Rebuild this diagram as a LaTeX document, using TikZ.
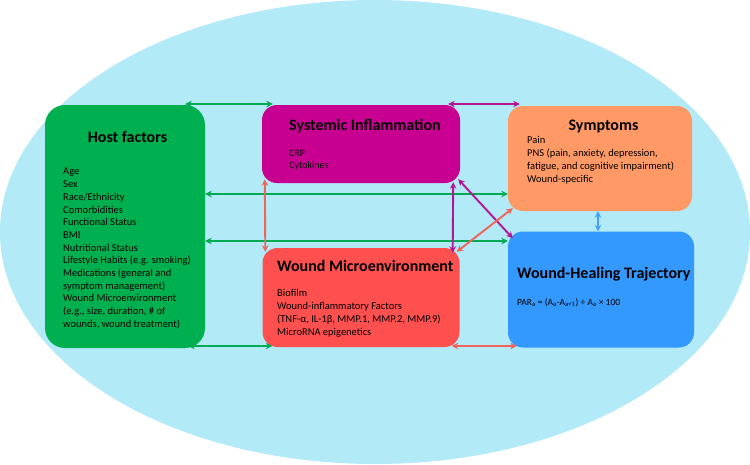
\documentclass[tikz,border=0pt]{standalone}
\usepackage{fontspec}
\setmainfont{Carlito}
\usetikzlibrary{arrows.meta}
\definecolor{bgblue}{RGB}{178,234,248}
\definecolor{hostgreen}{RGB}{0,176,80}
\definecolor{sysmag}{RGB}{200,0,145}
\definecolor{woundred}{RGB}{255,80,80}
\definecolor{sympor}{RGB}{255,153,102}
\definecolor{whtblue}{RGB}{51,153,255}
\definecolor{agreen}{RGB}{0,170,80}
\definecolor{amag}{RGB}{180,20,150}
\definecolor{ared}{RGB}{240,100,90}
\definecolor{ablue}{RGB}{70,160,250}
\tikzset{
  box/.style={rectangle, rounded corners=15pt, inner sep=0pt, draw=none},
  ttl/.style={font=\fontsize{16}{19}\selectfont\bfseries, inner sep=0pt, text=black},
  bodytxt/.style={font=\fontsize{10.5}{12.7}\selectfont, align=left, inner sep=0pt, anchor=north west, text=black},
  conn/.style={line width=1.9pt, {Stealth[length=6.5pt,width=6.5pt]}-{Stealth[length=6.5pt,width=6.5pt]}}
}
\begin{document}
\begin{tikzpicture}[x=1pt,y=-1pt]
\useasboundingbox (0,0) rectangle (750,464);
\fill[white] (0,0) rectangle (750,464);
\fill[bgblue] (375,232) ellipse [x radius=375pt, y radius=232pt];

% boxes
\node[box, rounded corners=20pt, fill=hostgreen, minimum width=160pt, minimum height=243pt] (host) at (125,226.5) {};
\node[box, fill=sysmag, minimum width=198pt, minimum height=78pt] (sys) at (361,144) {};
\node[box, fill=woundred, minimum width=197pt, minimum height=99pt] (wm) at (361,297.5) {};
\node[box, fill=sympor, minimum width=184pt, minimum height=105pt] (symp) at (600,158.5) {};
\node[box, fill=whtblue, minimum width=186pt, minimum height=116pt] (wht) at (601,289.5) {};

% titles
\node[ttl, anchor=base] (hostT) at (127.5,142) {Host factors};
\node[ttl, anchor=base west] (sysT) at (289,130) {Systemic Inflammation};
\node[ttl, anchor=base west] (wmT) at (277,271) {Wound Microenvironment};
\node[ttl, anchor=base] (sympT) at (603.5,130) {Symptoms};
\node[ttl, anchor=base west] (whtT) at (517,278) {Wound-Healing Trajectory};

% bodies
\node[bodytxt] (hostB) at (63,168) {Age\\Sex\\Race/Ethnicity\\Comorbidities\\Functional Status\\BMI\\Nutritional Status\\Lifestyle Habits (e.g. smoking)\\Medications (general and\\symptom management)\\Wound Microenvironment\\(e.g., size, duration, \# of\\wounds, wound treatment)};
\node[bodytxt, font=\fontsize{10}{12.7}\selectfont] (sysB) at (289,149.5) {CRP\\Cytokines};
\node[bodytxt] (wmB) at (277,289.5) {Biofilm\\Wound-inflammatory Factors\\(TNF-α, IL-1β, MMP.1, MMP.2, MMP.9)\\MicroRNA epigenetics};
\node[bodytxt] (sympB) at (527,136.5) {Pain\\PNS (pain, anxiety, depression,\\fatigue, and cognitive impairment)\\Wound-specific};
\node[bodytxt, font=\fontsize{9.5}{12}\selectfont] (whtB) at (517,298.5) {PAR\textsubscript{a} = (A\textsubscript{a}-A\textsubscript{a+1}) ÷ A\textsubscript{a} × 100};

% row coordinates
\coordinate (rtop) at (0,104);
\coordinate (r1) at (0,194);
\coordinate (r2) at (0,241);
\coordinate (rbot) at (0,346);

% horizontal connectors
\draw[conn, agreen] ([xshift=-20pt]host.north east |- rtop) -- ([xshift=11pt]sys.north west |- rtop);
\draw[conn, amag] ([xshift=-12pt]sys.north east |- rtop) -- ([xshift=12pt]symp.north west |- rtop);
\draw[conn, agreen] (host.east |- r1) -- (symp.west |- r1);
\draw[conn, agreen] (host.east |- r2) -- (wht.west |- r2);
\draw[conn, agreen] ([xshift=-17pt]host.south east |- rbot) -- ([xshift=10pt]wm.south west |- rbot);
\draw[conn, ared] ([xshift=-8pt]wm.south east |- rbot) -- ([xshift=9pt]wht.south west |- rbot);

% vertical connectors
\draw[conn, ared] ([xshift=3pt,yshift=4pt]sys.south west) -- ([xshift=3pt,yshift=-4pt]wm.north west);
\draw[conn, amag] ([xshift=-7pt,yshift=1pt]sys.south east) -- ([xshift=-7pt,yshift=-5pt]wm.north east);
\draw[conn, ablue] ([xshift=-2pt]symp.south) -- ([xshift=-2pt]symp.south |- wht.north);

% diagonal connectors
\draw[conn, amag] ([shift={(-2,-4)}]sys.south east) -- ([shift={(5,7)}]wht.north west);
\draw[conn, ared] ([shift={(-3,4)}]wm.north east) -- ([shift={(5,-3)}]symp.south west);
\end{tikzpicture}
\end{document}
